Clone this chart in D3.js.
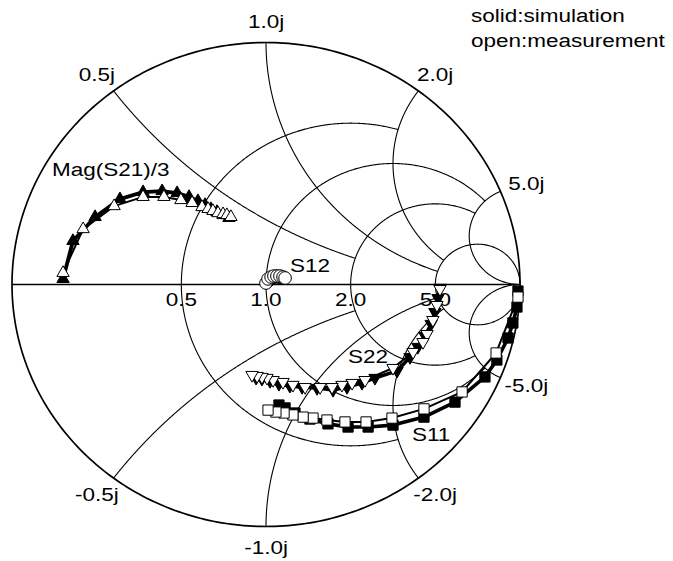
<!DOCTYPE html>
<html>
<head>
<meta charset="utf-8">
<script src="https://cdn.jsdelivr.net/npm/d3@7"></script>
<style>
  body { margin: 0; background: #fff; }
  svg { display: block; }
  text { font-family: "Liberation Sans", Arial, sans-serif; font-size: 18px; fill: #000; }
</style>
</head>
<body>
<svg id="chart" width="673" height="561"></svg>
<script>
// Reflection coefficients, [re, im]
const s11Meas = [[0.992,-0.052],[0.906,-0.283],[0.772,-0.444],[0.622,-0.514],[0.496,-0.552],[0.394,-0.568],[0.311,-0.568],[0.240,-0.560],[0.185,-0.552],[0.146,-0.548],[0.106,-0.539],[0.071,-0.531],[0.039,-0.527],[0.008,-0.519]];
const s11Sim  = [[0.992,-0.027],[0.988,-0.093],[0.972,-0.159],[0.953,-0.221],[0.909,-0.312],[0.862,-0.382],[0.744,-0.486],[0.622,-0.548],[0.500,-0.581],[0.402,-0.589],[0.323,-0.589],[0.244,-0.576],[0.173,-0.556],[0.114,-0.531],[0.075,-0.510],[0.051,-0.498]];
const s22Meas = [[0.685,-0.019],[0.673,-0.085],[0.657,-0.147],[0.634,-0.205],[0.618,-0.238],[0.579,-0.279],[0.500,-0.345],[0.390,-0.395],[0.339,-0.407],[0.299,-0.415],[0.260,-0.424],[0.213,-0.424],[0.154,-0.424],[0.106,-0.415],[0.067,-0.403],[0.028,-0.395],[0.004,-0.386],[-0.016,-0.382],[-0.035,-0.378],[-0.055,-0.374]];
const s22Sim  = [[0.685,-0.014],[0.677,-0.056],[0.665,-0.114],[0.650,-0.163],[0.626,-0.213],[0.598,-0.258],[0.567,-0.300],[0.516,-0.357],[0.429,-0.386],[0.378,-0.407],[0.319,-0.424],[0.264,-0.436],[0.201,-0.428],[0.142,-0.424],[0.094,-0.419],[0.051,-0.411],[0.016,-0.399],[-0.016,-0.390],[-0.039,-0.386]];
const s21Meas = [[-0.799,0.048],[-0.720,0.229],[-0.598,0.324],[-0.484,0.362],[-0.402,0.362],[-0.335,0.349],[-0.291,0.337],[-0.252,0.320],[-0.228,0.312],[-0.209,0.304],[-0.189,0.295],[-0.169,0.291],[-0.154,0.287],[-0.138,0.279]];
const s21Sim  = [[-0.799,0.023],[-0.760,0.180],[-0.673,0.279],[-0.575,0.353],[-0.484,0.382],[-0.409,0.386],[-0.350,0.378],[-0.303,0.362],[-0.268,0.345],[-0.240,0.329],[-0.217,0.312],[-0.193,0.300],[-0.169,0.287],[-0.146,0.275]];
const s12Meas = [[0.000,0.006],[0.008,0.023],[0.020,0.031],[0.031,0.035],[0.043,0.035],[0.055,0.035],[0.067,0.031],[0.075,0.027]];
const s12Sim  = [[0.008,0.014],[0.020,0.027],[0.035,0.031],[0.051,0.031],[0.063,0.027]];

// Grid: resistance circles clipped at a reactance, reactance arcs clipped at a resistance
const resistanceValues = [0.5, 1, 2, 5];
const resistanceClip   = [2, 5, 5, Infinity];
const reactanceValues  = [0.5, 1, 2, 5];
const reactanceClip    = [2, 5, 5, Infinity];
const resistanceLabels = ["0.5", "1.0", "2.0", "5.0"];
const reactanceLabels  = ["0.5j", "1.0j", "2.0j", "5.0j"];
const negReactanceLabels = ["-0.5j", "-1.0j", "-2.0j", "-5.0j"];
const legendLines = ["solid:simulation", "open:measurement"];

const svg = d3.select("#chart");
const x = d3.scaleLinear().domain([-1, 1]).range([12, 520]);
const y = d3.scaleLinear().domain([-1, 1]).range([526.5, 42.5]);
const line = d3.line().x(d => x(d[0])).y(d => y(d[1]));

// z = r + j*xv  ->  gamma = (z - 1) / (z + 1)
function gamma(r, xv) {
  const a = r - 1, c = r + 1, den = c * c + xv * xv;
  return [(a * c + xv * xv) / den, (xv * c - a * xv) / den];
}

const grid = svg.append("g").attr("fill", "none").attr("stroke", "#000");

// outer circle
grid.append("path")
  .attr("d", line(d3.range(0, 361).map(t => [Math.cos(t * Math.PI / 180), Math.sin(t * Math.PI / 180)])))
  .attr("stroke-width", 1.7);

// real axis
grid.append("path").attr("d", line([[-1, 0], [1, 0]])).attr("stroke-width", 1.3);

// resistance circles
resistanceValues.forEach((r, i) => {
  const ph = Math.atan(resistanceClip[i]);
  const n = 800;
  const pts = d3.range(n + 1).map(k => {
    const p = -ph + 2 * ph * k / n;
    return gamma(r, Math.tan(Math.max(-1.5707, Math.min(1.5707, p))));
  });
  grid.append("path").attr("d", line(pts)).attr("stroke-width", 1.1);
});

// reactance arcs (both signs)
reactanceValues.forEach((xv, i) => {
  const R = reactanceClip[i];
  const T = isFinite(R) ? R / (1 + R) : 0.99995;
  const n = 600;
  [1, -1].forEach(sgn => {
    const pts = d3.range(n + 1).map(k => {
      const t = T * k / n;
      return gamma(t / (1 - t), sgn * xv);
    });
    grid.append("path").attr("d", line(pts)).attr("stroke-width", 1.1);
  });
});

// text helper: widened glyphs
function label(px, py, str, anchor) {
  svg.append("text")
    .attr("transform", `translate(${px},${py}) scale(1.25,1)`)
    .attr("text-anchor", anchor || "start")
    .text(str);
}

// reactance labels outside the rim
reactanceValues.forEach((xv, i) => {
  [[xv, reactanceLabels[i]], [-xv, negReactanceLabels[i]]].forEach(([v, s]) => {
    const g = gamma(0, v);
    const px = x(g[0]) + 28 * g[0];
    const py = y(g[1]) - 21 * g[1];
    label(px, py + 6.5, s, "middle");
  });
});

// resistance labels under the axis
resistanceValues.forEach((r, i) => {
  label(x(gamma(r, 0)[0]), y(0) + 21.5, resistanceLabels[i], "middle");
});

// traces: simulation drawn first (solid), measurement on top (open)
const triUp = d3.symbol().type(d3.symbolTriangle).size(66);
const square = d3.symbol().type(d3.symbolSquare).size(105);
const circle = d3.symbol().type(d3.symbolCircle).size(125);

function trace(data, sym, filled, width, rot) {
  const g = svg.append("g");
  g.append("path").attr("d", line(data)).attr("fill", "none")
    .attr("stroke", "#000").attr("stroke-width", width).attr("stroke-linejoin", "round");
  g.selectAll("path.m").data(data).join("path").attr("class", "m")
    .attr("d", sym())
    .attr("transform", d => `translate(${x(d[0])},${y(d[1])}) rotate(${rot || 0})`)
    .attr("fill", filled ? "#000" : "#fff")
    .attr("stroke", "#000").attr("stroke-width", 1);
}

trace(s21Sim, triUp, true, 3.8);
trace(s11Sim, square, true, 3.6);
trace(s22Sim, triUp, true, 3.6, 180);
trace(s12Sim, circle, true, 2);
trace(s21Meas, triUp, false, 2);
trace(s11Meas, square, false, 2);
trace(s22Meas, triUp, false, 2, 180);
trace(s12Meas, circle, false, 1.5);

// trace names
label(52, 176, "Mag(S21)/3");
label(290, 272, "S12");
label(348, 363, "S22");
label(412, 441, "S11");

// legend
legendLines.forEach((s, i) => label(471, 22 + 25 * i, s));
</script>
</body>
</html>
